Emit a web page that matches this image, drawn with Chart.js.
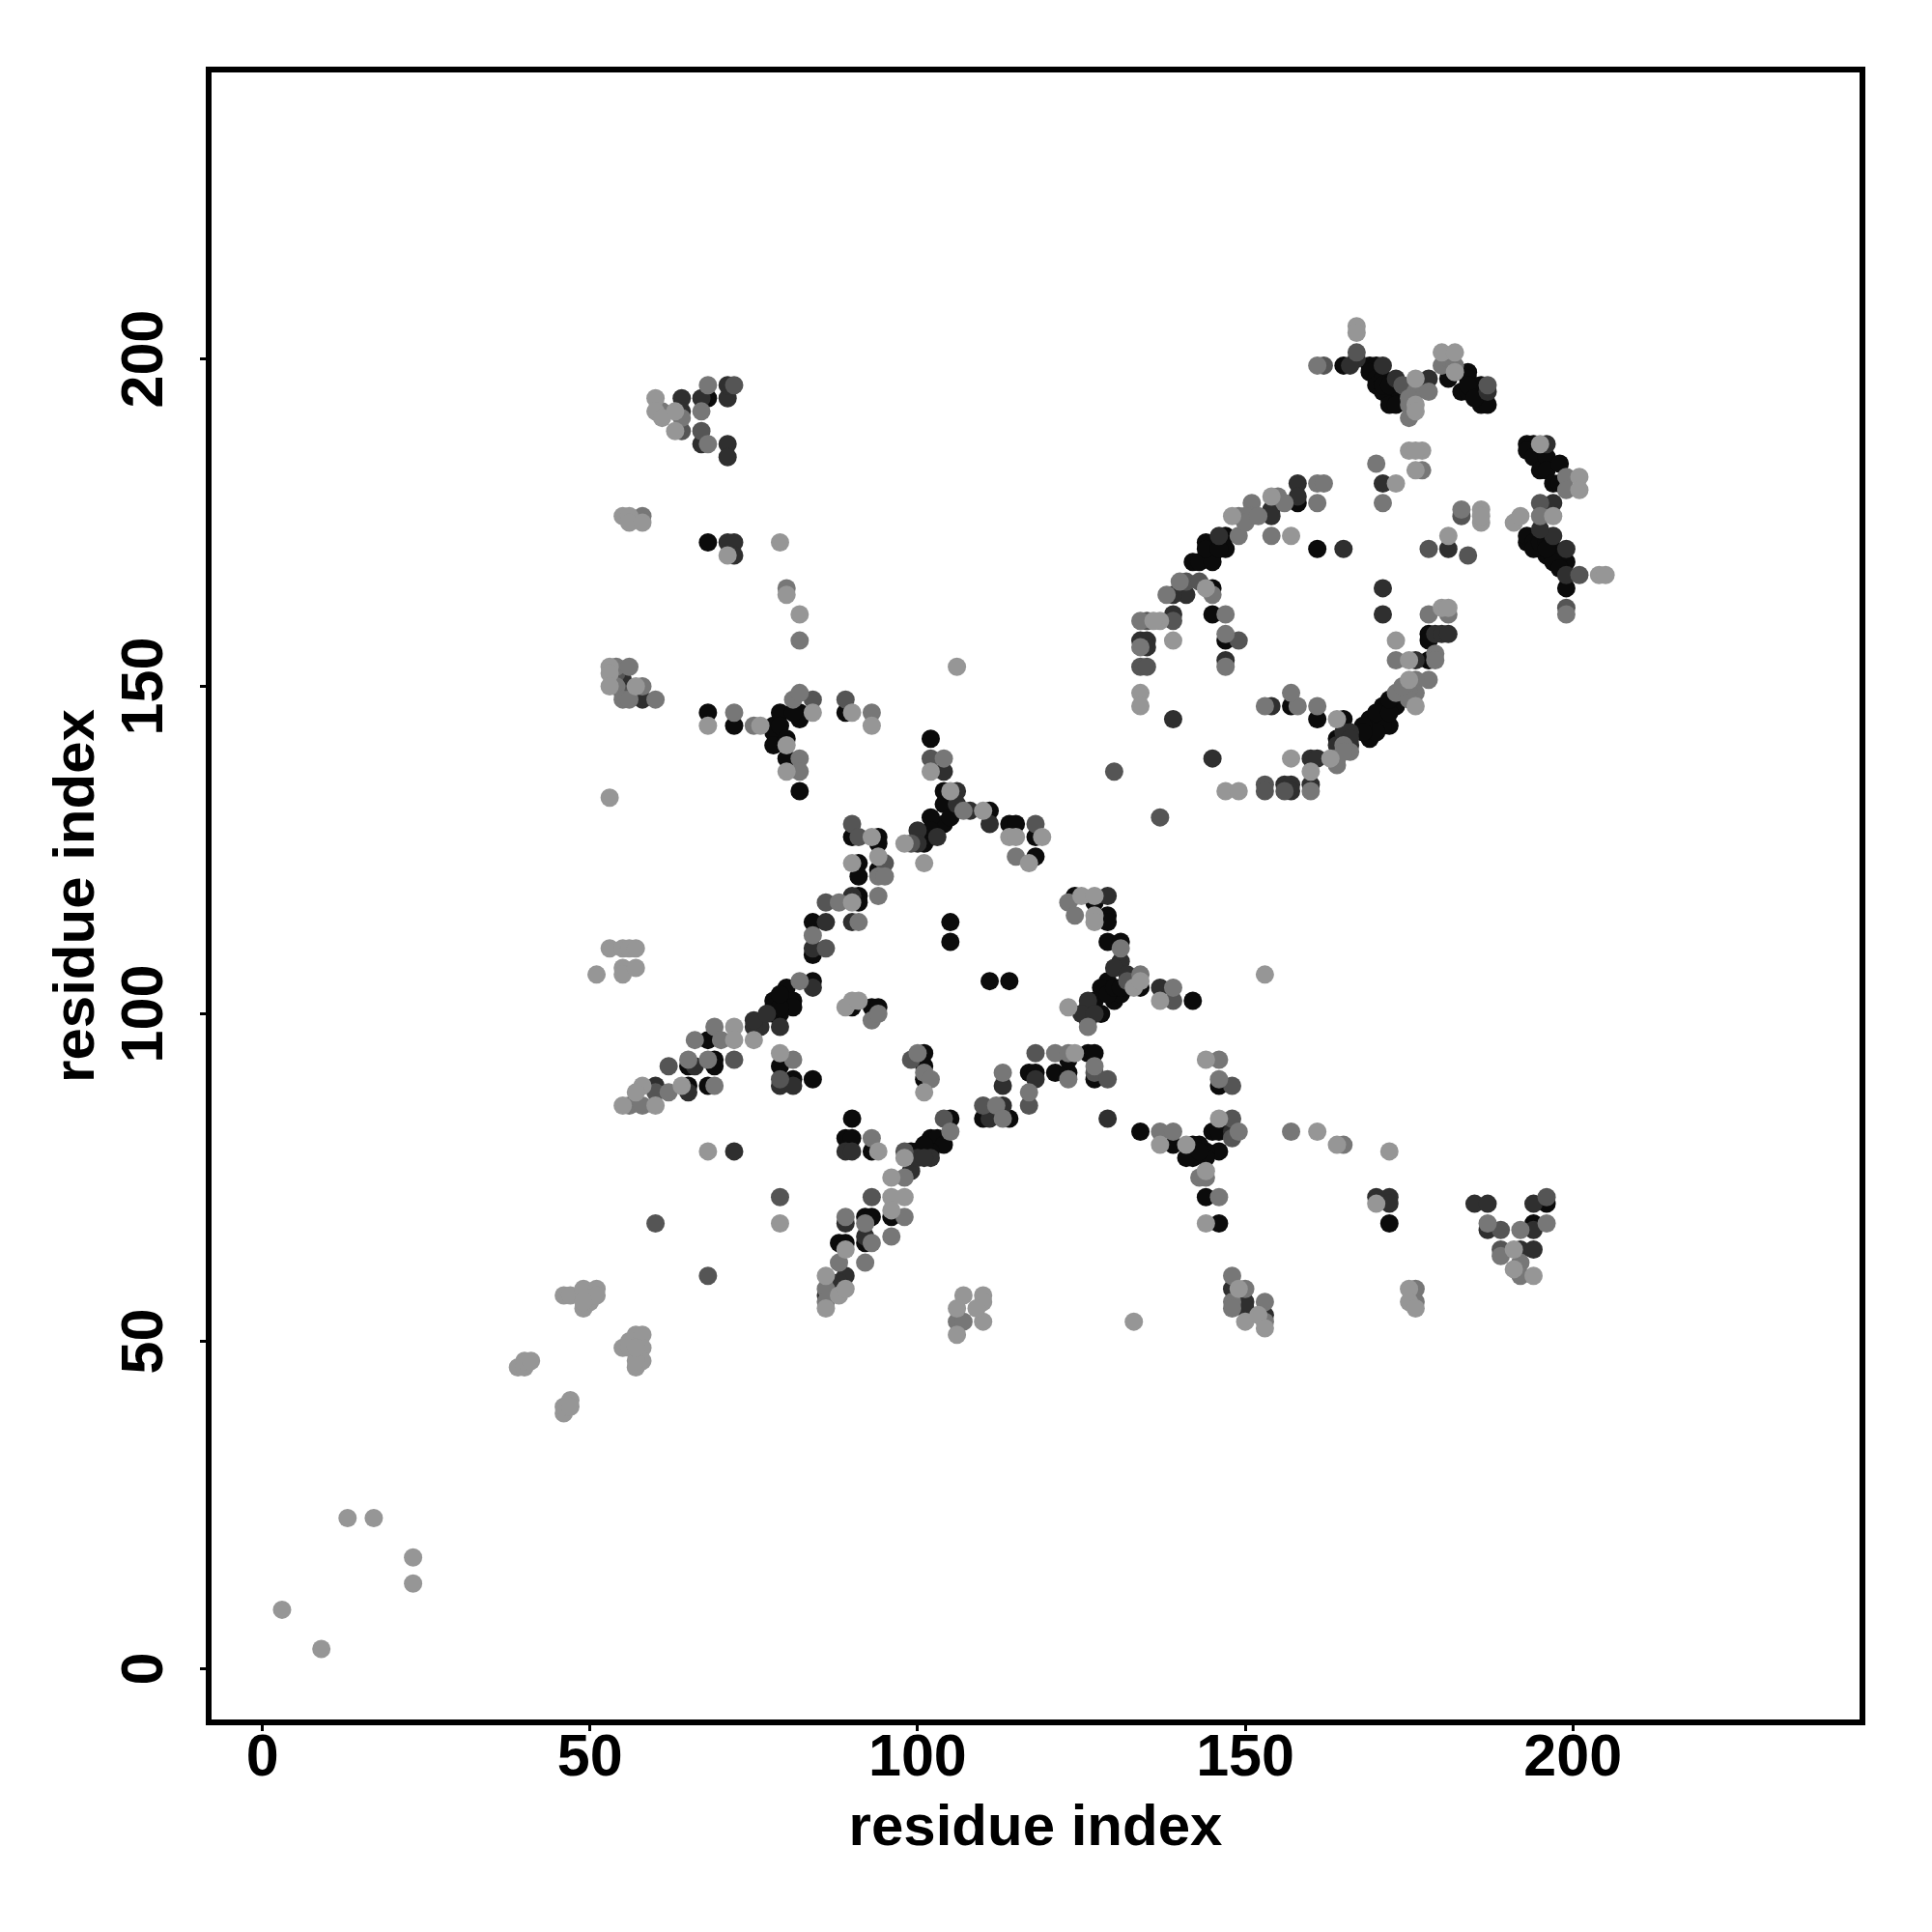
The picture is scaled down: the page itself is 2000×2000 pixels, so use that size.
<!DOCTYPE html>
<html><head><meta charset="utf-8">
<style>html,body{margin:0;padding:0;background:#fff}canvas{display:block}</style>
<script src="https://cdn.jsdelivr.net/npm/chart.js@4"></script>
</head><body><canvas id="c" width="2000" height="2000"></canvas>
<script>
const tickValues=[0,50,100,150,200];
const axisLabel="residue index";
const shades=["#969696","#777777","#555555","#2f2f2f","#0b0b0b"];
const contactsLight=[[3,9],[9,3],[13,23],[17,23],[23,17],[23,13],[39,46],[40,46],[40,47],[41,47],[46,39],[46,40],[47,41],[47,40],[46,57],[47,57],[49,58],[51,58],[49,55],[50,56],[51,57],[49,56],[55,49],[56,50],[57,51],[58,51],[58,49],[57,46],[58,47],[57,47],[56,49],[57,49],
[167,205],[167,204],[176,197],[176,193],[176,192],[180,201],[182,201],[182,198],[195,187],[201,182],[201,180],[191,175],[192,176],[197,176],[173,181],[175,186],[177,186],[176,186],[176,183],[186,177],[186,175],[186,176],[181,173],[148,176],[154,179],[157,173],[139,157],[137,160],[136,160],[144,165],[173,157],[175,154],[175,151],[176,147],[164,145],[163,139],[157,139],[160,137],[147,134],[149,134],[180,162],[181,162],[134,149],[134,147],[204,167],[205,167],
[60,194],[60,192],[61,191],[63,192],[63,189],[55,176],[56,176],[56,175],[58,175],[71,170],[79,172],[80,164],[82,161],[106,153],[53,153],[53,152],[53,150],[57,150],[68,144],[76,144],[80,141],[80,137],[84,146],[90,146],[93,144],[102,137],[105,134],[53,133],
[110,131],[114,127],[115,127],[119,127],[117,123],[98,126],[101,123],[93,127],[90,123],[94,124],[90,117],[51,106],[53,110],[55,110],[56,110],[57,110],[55,107],[55,106],[57,107],[90,102],[89,101],[91,102],[72,98],[72,96],[75,96],[79,94],[58,89],[57,88],[64,89],[55,86],[60,86],[68,79],[94,79],[101,88],[98,78],[96,75],[125,118],[127,118],[124,94],[123,101],[127,115],[127,114],[133,104],[134,105],[137,102],[146,84],[153,106],[144,93],[141,80],[137,80],[144,76],[144,68],[172,79],[161,82],[164,80],[170,71],[191,64],[191,61],[194,60],[149,58],[150,53],[152,54],[153,52],[175,58],[175,56],[176,55],[79,68],[96,72],[98,72],[96,70],[89,64],[86,60],[86,55],[88,57],[89,58],[107,57],[110,57],[110,56],[106,55],[110,53],[106,51],[109,55],[133,53]];
const contactsMid=[[161,199],[176,195],[178,195],[180,199],[181,200],[182,199],[175,191],[199,182],[199,180],[195,176],[170,184],[171,178],[177,183],[183,177],[151,178],[151,176],[155,179],[161,181],[162,181],[161,178],[149,176],[150,176],[149,173],[154,173],[147,161],[147,158],[140,166],[138,164],[134,160],[134,156],[147,153],[145,164],[178,161],[181,161],[179,155],[179,154],[173,154],[178,151],[176,151],[176,149],[173,149],[166,140],[164,139],[164,138],[161,147],[158,147],[153,147],[157,149],[160,134],[199,161],
[61,192],[64,191],[68,196],[67,192],[68,187],[58,176],[72,146],[80,165],[82,157],[54,153],[56,153],[54,150],[55,148],[56,148],[58,150],[60,148],[75,144],[81,148],[82,149],[82,139],[82,137],[93,146],[104,139],[107,131],[88,117],[94,121],[95,121],[94,118],[91,114],[84,112],[82,105],[93,99],[94,100],[69,98],[66,96],[70,96],[65,93],[68,93],[81,93],[69,89],[62,88],[56,86],[58,86],[93,81],[105,82],[98,75],[112,86],[113,84],[117,88],[113,91],[123,90],[121,94],[123,94],[127,92],[100,94],[101,91],[102,90],[123,117],[124,115],[131,110],[134,106],[139,104],[126,98],[146,93],[146,90],[137,82],[139,82],[149,82],[157,82],[165,80],[143,75],[144,75],[146,72],[187,68],[192,67],[196,68],[189,63],[192,62],[192,60],[148,60],[148,56],[148,55],[150,58],[153,56],[153,53],[176,58],[176,56],[89,69],[92,68],[93,65],[96,66],[88,62],[92,62],[86,58],[86,56],[98,69],[106,53],[107,53],[115,124],[150,175],[152,176],[156,178],[165,141],[165,140],[175,149],[175,148],[174,150],[175,193],[175,194]];
const contactsDim=[[162,199],[167,201],[187,196],[195,178],[183,176],[184,170],[178,171],[199,162],[201,167],[130,137],[137,130],[153,135],[153,134],[156,134],[141,166],[143,166],[135,160],[134,153],[135,153],[149,157],[139,160],[64,189],[67,189],[72,196],[89,148],[102,139],[90,129],[91,127],[95,123],[86,117],[86,110],[99,126],[118,129],[62,92],[72,93],[79,90],[60,88],[148,89],[139,102],[68,60],[60,68],[79,72],[93,72],[117,86],[118,94],[110,86],[127,91],[129,90],[99,93],[104,84],[98,79],[148,84],[148,81],[189,67],[196,72],[189,64],[84,148],[54,152],[55,149],[132,105],[174,196]];
const contactsDark=[[167,200],[166,199],[171,199],[173,197],[175,195],[178,197],[187,195],[196,187],[197,178],[197,173],[199,171],[199,167],[171,181],[181,171],[158,181],[158,179],[154,177],[154,176],[146,173],[141,164],[139,164],[139,161],[134,157],[135,157],[135,156],[147,154],[139,145],[145,139],[166,143],[166,141],[164,141],[154,147],[176,154],[160,139],[161,139],[160,135],[156,135],[157,135],[157,134],[179,158],[180,158],[181,158],[171,165],[171,161],[165,171],
[64,194],[64,192],[67,194],[71,194],[71,196],[67,187],[71,187],[71,185],[71,172],[72,172],[72,170],[104,137],[106,134],[106,132],[108,131],[111,129],[100,128],[100,126],[103,127],[90,118],[86,114],[90,114],[84,110],[76,98],[79,98],[75,98],[75,99],[66,92],[65,88],[60,89],[79,89],[81,89],[84,104],[72,79],[89,79],[90,79],[99,76],[102,78],[100,78],[113,86],[111,84],[118,90],[113,89],[129,118],[129,84],[131,108],[130,107],[132,106],[126,102],[126,99],[137,104],[148,82],[170,72],[172,72],[172,71],[185,71],[187,71],[194,71],[187,67],[194,67],[192,64],[194,64],[148,58],[150,56],[150,55],[153,54],[92,66],[89,60],[88,59],[86,57],[89,68],[195,174],[55,151],[57,149],[58,148],[165,143],[166,142],[77,100],[101,78],[125,100],[127,100]];
const contactsBlack=[[165,199],[169,199],[170,199],[169,198],[170,197],[170,196],[172,195],[172,194],[173,194],[171,197],[181,197],[184,198],[184,197],[183,195],[184,195],[185,195],[186,196],[186,194],[186,193],[187,193],[193,187],[194,187],[193,186],[194,185],[195,183],[196,185],[196,183],[198,184],[197,181],[198,181],[193,172],[195,171],[196,170],[198,169],[199,169],[199,165],[158,178],[147,173],[147,171],[144,172],[145,170],[142,169],[143,169],[145,169],[144,171],[146,171],[161,171],[145,165],[145,161],[147,157],[178,158],[178,157],[178,154],[173,147],[171,147],[172,144],[171,144],[169,145],[169,142],[170,143],[165,145],[164,142],[161,145],[157,147],
[68,194],[68,172],[68,146],[72,144],[78,144],[78,143],[78,141],[79,146],[79,144],[80,142],[80,139],[82,146],[82,145],[82,134],[81,146],[89,146],[102,142],[104,134],[104,132],[104,129],[105,130],[102,130],[102,127],[102,128],[101,126],[111,131],[114,129],[115,129],[118,127],[118,124],[90,127],[94,127],[94,126],[91,123],[94,122],[91,121],[91,118],[91,117],[84,114],[84,109],[105,114],[105,111],[111,105],[114,105],[84,105],[80,104],[78,102],[80,102],[81,102],[81,101],[78,100],[79,100],[90,101],[93,101],[94,101],[68,96],[65,92],[69,93],[69,92],[79,92],[81,90],[84,90],[65,89],[68,89],[90,84],[89,81],[90,81],[93,79],[105,84],[102,81],[103,81],[104,80],[102,79],[100,79],[99,79],[110,84],[114,84],[117,91],[118,91],[121,91],[123,91],[123,93],[126,94],[127,94],[127,90],[101,94],[101,92],[101,90],[124,118],[127,117],[129,115],[129,114],[129,111],[131,111],[134,104],[129,105],[130,102],[128,104],[128,100],[126,101],[142,102],[146,89],[145,82],[146,82],[146,79],[144,79],[143,80],[142,80],[142,78],[141,78],[144,78],[143,79],[134,82],[139,80],[144,72],[146,68],[172,68],[194,68],[196,71],[96,69],[92,69],[93,69],[92,65],[88,65],[89,65],
[193,173],[194,172],[194,171],[195,172],[196,172],[197,171],[197,170],[198,170],[197,169],[198,168],[196,171],[168,144],[168,143],[170,146],[172,146],[172,148],[171,195],[171,196],[172,196],[172,193],[173,193],[184,196],[185,194],[101,80],[127,102],[131,103],[132,104],[129,103],[130,104],[131,104],[78,101],[79,101],[79,103]];

const series=[contactsLight,contactsMid,contactsDim,contactsDark,contactsBlack];
const tickFont={family:'"Liberation Sans"',size:61,weight:'bold'};
const titleFont={family:'"Liberation Sans"',size:60,weight:'bold'};
const frame={id:'frame',afterDatasetsDraw(ch){const a=ch.chartArea,c=ch.ctx;c.save();c.strokeStyle='#000';c.lineWidth=6;c.strokeRect(a.left,a.top,a.right-a.left,a.bottom-a.top);c.restore();}};
const setTicks=s=>{s.ticks=tickValues.map(v=>({value:v,label:String(v)}));};
const grid={drawOnChartArea:false,drawTicks:true,tickLength:9,tickWidth:3,tickColor:'#000'};
new Chart(document.getElementById('c'),{
 type:'scatter',
 data:{datasets:series.map((pts,i)=>({data:pts.map(p=>({x:p[0],y:p[1]})),backgroundColor:shades[i],pointRadius:9.5,pointBorderWidth:0,pointHoverRadius:9.5}))},
 options:{responsive:false,animation:false,
  layout:{padding:{left:0,right:72,top:72,bottom:0}},
  plugins:{legend:{display:false},tooltip:{enabled:false}},
  scales:{
   x:{type:'linear',min:-8.2,max:244.2,afterBuildTicks:setTicks,afterFit:s=>{s.height=217;},
      grid,border:{display:false},
      ticks:{font:tickFont,color:'#000',padding:-7,autoSkip:false,maxRotation:0,minRotation:0},
      title:{display:true,text:axisLabel,font:titleFont,color:'#000',padding:{top:0,bottom:71}}},
   y:{type:'linear',min:-8.2,max:244.2,afterBuildTicks:setTicks,afterFit:s=>{s.width=216;},
      grid,border:{display:false},
      ticks:{font:tickFont,color:'#000',padding:5,autoSkip:false,minRotation:90,maxRotation:90,crossAlign:'center'},
      title:{display:true,text:axisLabel,font:titleFont,color:'#000',padding:{top:44,bottom:0}}}
  }},
 plugins:[frame]
});
</script></body></html>
